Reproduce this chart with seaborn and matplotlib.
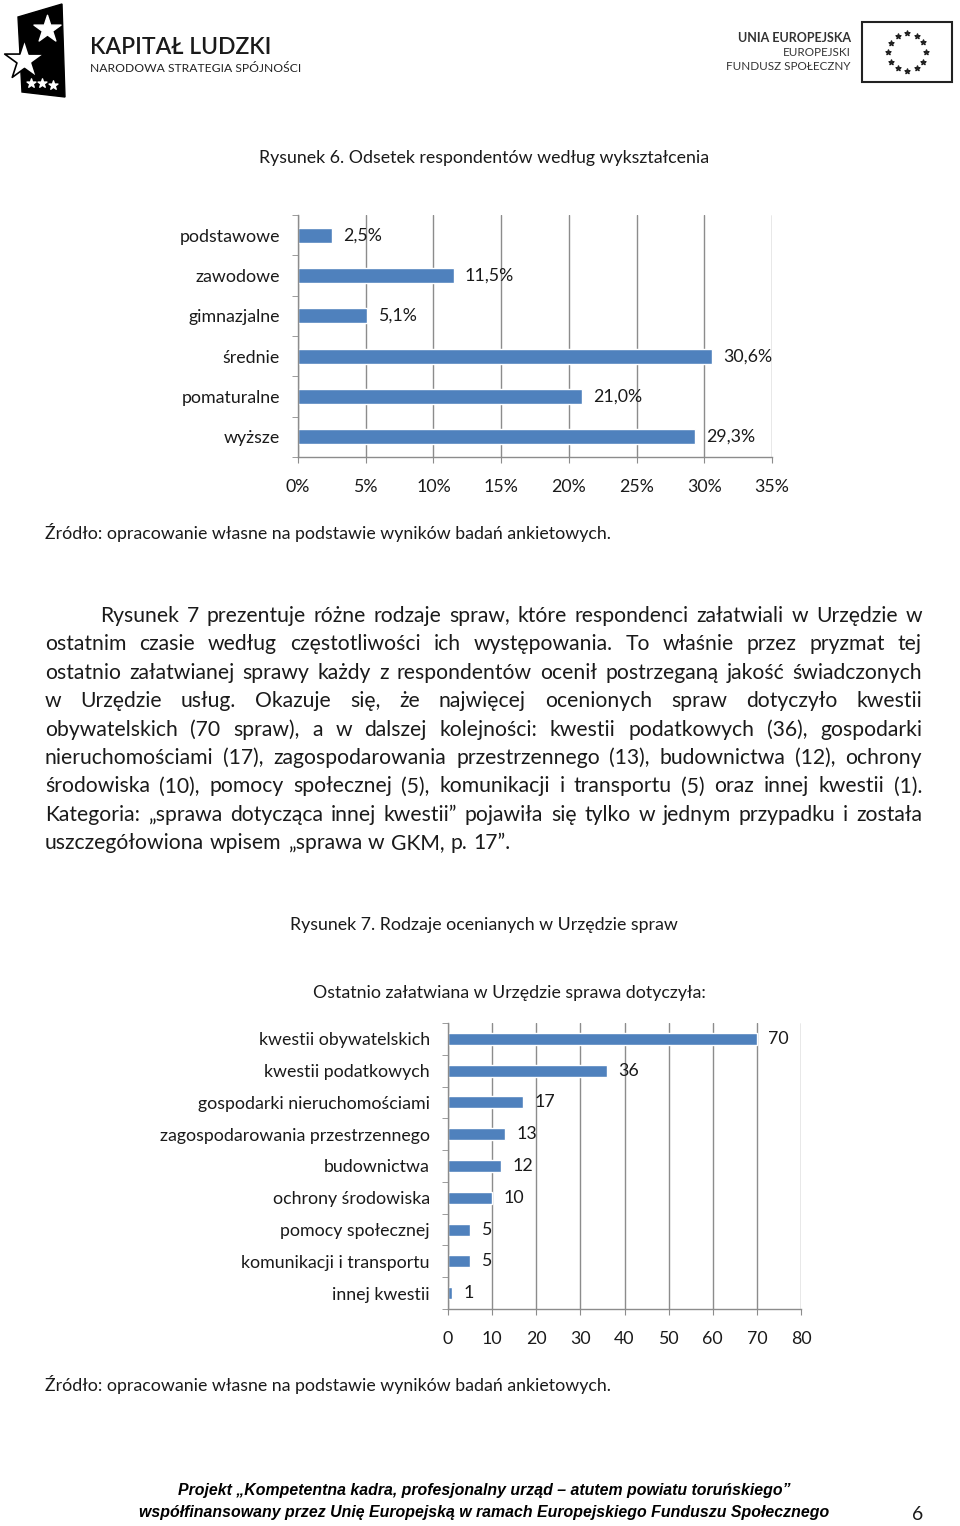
import numpy as np
import matplotlib
matplotlib.use('Agg')
import matplotlib.pyplot as plt
import seaborn as sns
from matplotlib.patches import Polygon, Rectangle

# Dane do wykresów

edu_labels = ['podstawowe', 'zawodowe', 'gimnazjalne', 'średnie', 'pomaturalne', 'wyższe']
edu_values = [2.5, 11.5, 5.1, 30.6, 21.0, 29.3]
edu_ticks = [0, 5, 10, 15, 20, 25, 30, 35]

case_labels = ['kwestii obywatelskich', 'kwestii podatkowych', 'gospodarki nieruchomościami',
               'zagospodarowania przestrzennego', 'budownictwa', 'ochrony środowiska',
               'pomocy społecznej', 'komunikacji i transportu', 'innej kwestii']
case_values = [70, 36, 17, 13, 12, 10, 5, 5, 1]
case_ticks = [0, 10, 20, 30, 40, 50, 60, 70, 80]

paragraph = [
    'Rysunek 7 prezentuje różne rodzaje spraw, które respondenci załatwiali w Urzędzie w',
    'ostatnim czasie według częstotliwości ich występowania. To właśnie przez pryzmat tej',
    'ostatnio załatwianej sprawy każdy z respondentów ocenił postrzeganą jakość świadczonych',
    'w Urzędzie usług. Okazuje się, że najwięcej ocenionych spraw dotyczyło kwestii',
    'obywatelskich (70 spraw), a w dalszej kolejności: kwestii podatkowych (36), gospodarki',
    'nieruchomościami (17), zagospodarowania przestrzennego (13), budownictwa (12), ochrony',
    'środowiska (10), pomocy społecznej (5), komunikacji i transportu (5) oraz innej kwestii (1).',
    'Kategoria: „sprawa dotycząca innej kwestii” pojawiła się tylko w jednym przypadku i została',
    'uszczegółowiona wpisem „sprawa w GKM, p. 17”.',
]

source = 'Źródło: opracowanie własne na podstawie wyników badań ankietowych.'

# Styl

sns.set_style('white')
plt.rcParams['font.family'] = ['Lato', 'DejaVu Sans']
BLUE = '#4F81BD'
GRID = '#8C8C8C'
TXT = '#1a1a1a'
FS = 12.8      # tekst wykresów i podpisów
FS_PAR = 15.2  # akapit

W, H = 960, 1526
fig = plt.figure(figsize=(W / 100, H / 100), dpi=100)

# tło strony w pikselach
page = fig.add_axes([0, 0, 1, 1])
page.set_xlim(0, W)
page.set_ylim(H, 0)
page.axis('off')


def box(left, top, right, bottom):
    return [left / W, 1 - bottom / H, (right - left) / W, (bottom - top) / H]


def bar_chart(rect, labels, values, ticks, tick_fmt, val_fmt):
    ax = fig.add_axes(rect)
    ax.set_facecolor('none')
    sns.barplot(x=values, y=labels, orient='h', color=BLUE, saturation=1, width=0.38, ax=ax)
    ax.set_xlim(ticks[0], ticks[-1])
    ax.set_ylim(len(labels) - 0.5, -0.5)
    ax.set_xticks(ticks)
    ax.set_xticklabels([tick_fmt(t) for t in ticks])
    ax.set_yticks(np.arange(-0.5, len(labels)), minor=True)
    ax.grid(axis='x', color=GRID, lw=1)
    ax.set_axisbelow(True)
    ax.set_xlabel('')
    ax.set_ylabel('')
    for s in ['top', 'right']:
        ax.spines[s].set_visible(False)
    for s in ['left', 'bottom']:
        ax.spines[s].set_color(GRID)
        ax.spines[s].set_linewidth(1)
    ax.tick_params(axis='y', which='major', length=0, pad=13, labelsize=FS, labelcolor=TXT)
    ax.tick_params(axis='y', which='minor', length=4, color=GRID, left=True)
    ax.tick_params(axis='x', length=4, color=GRID, pad=12, labelsize=FS, labelcolor=TXT, bottom=True)
    ax.bar_label(ax.containers[0], labels=[val_fmt(v) for v in values], padding=8,
                 fontsize=FS, color=TXT)
    return ax


# Nagłówek z logotypami

page.add_patch(Polygon([(18, 17), (62, 4), (65, 97), (22, 92)], closed=True, color='black'))
page.scatter([47], [29], marker='*', s=420, c='white', zorder=3)
page.scatter([24], [60], marker='*', s=900, c='white', edgecolors='black', linewidths=1.2, zorder=3)
page.scatter([31, 42, 53], [83, 83, 85], marker='*', s=45, c='white', zorder=3)
page.text(90, 48, 'KAPITAŁ LUDZKI', fontsize=16.5, fontweight='semibold', color='#1a1a1a',
          va='center', ha='left')
page.text(90, 69, 'NARODOWA STRATEGIA SPÓJNOŚCI', fontsize=8.7, color='#222222', va='center', ha='left')

page.text(851, 38, 'UNIA EUROPEJSKA', fontsize=9, fontweight='bold', color='#333333', va='center', ha='right')
page.text(851, 53, 'EUROPEJSKI', fontsize=8.4, color='#333333', va='center', ha='right')
page.text(851, 67, 'FUNDUSZ SPOŁECZNY', fontsize=8.4, color='#333333', va='center', ha='right')
page.add_patch(Rectangle((862, 22), 90, 60, fill=False, edgecolor='#222222', lw=1.5))
ang = np.arange(12) * np.pi / 6
page.scatter(907 + 19 * np.cos(ang), 52 + 19 * np.sin(ang), marker='*', s=14, c='#222222')

# Rysunek 6

page.text(484, 158, 'Rysunek 6. Odsetek respondentów według wykształcenia', fontsize=FS,
          color=TXT, ha='center', va='center')
bar_chart(box(298, 215, 772, 457), edu_labels, edu_values, edu_ticks,
          lambda t: f'{t}%', lambda v: f'{v:.1f}%'.replace('.', ','))
page.text(45, 532, source, fontsize=FS, color=TXT, ha='left', va='center')

# Akapit (wyjustowany)

fig.canvas.draw()
renderer = fig.canvas.get_renderer()
for i, line in enumerate(paragraph):
    y = 616 + i * 28.4
    x0 = 100 if i == 0 else 45
    words = line.split(' ')
    texts = [page.text(0, y, w, fontsize=FS_PAR, color=TXT, ha='left', va='center') for w in words]
    widths = [t.get_window_extent(renderer).width for t in texts]
    if i == len(paragraph) - 1:
        gap = 6
    else:
        gap = (922 - x0 - sum(widths)) / (len(words) - 1)
    x = x0
    for t, w in zip(texts, widths):
        t.set_x(x)
        x += w + gap

# Rysunek 7

page.text(484, 925, 'Rysunek 7. Rodzaje ocenianych w Urzędzie spraw', fontsize=FS,
          color=TXT, ha='center', va='center')
page.text(509, 993, 'Ostatnio załatwiana w Urzędzie sprawa dotyczyła:', fontsize=FS,
          color=TXT, ha='center', va='center')
bar_chart(box(448, 1023, 801, 1309), case_labels, case_values, case_ticks,
          lambda t: f'{t}', lambda v: f'{v}')
page.text(45, 1384, source, fontsize=FS, color=TXT, ha='left', va='center')

# Stopka

foot = dict(fontsize=11.4, fontweight='bold', style='italic', color='black',
            family=['Liberation Sans Narrow', 'Liberation Sans'], va='center')
page.text(484, 1491, 'Projekt „Kompetentna kadra, profesjonalny urząd – atutem powiatu toruńskiego”',
          ha='center', **foot)
page.text(484, 1513, 'współfinansowany przez Unię Europejską w ramach Europejskiego Funduszu Społecznego',
          ha='center', **foot)
page.text(918, 1515, '6', fontsize=14, color=TXT, ha='center', va='center')

fig.savefig('out.png', dpi=100)
